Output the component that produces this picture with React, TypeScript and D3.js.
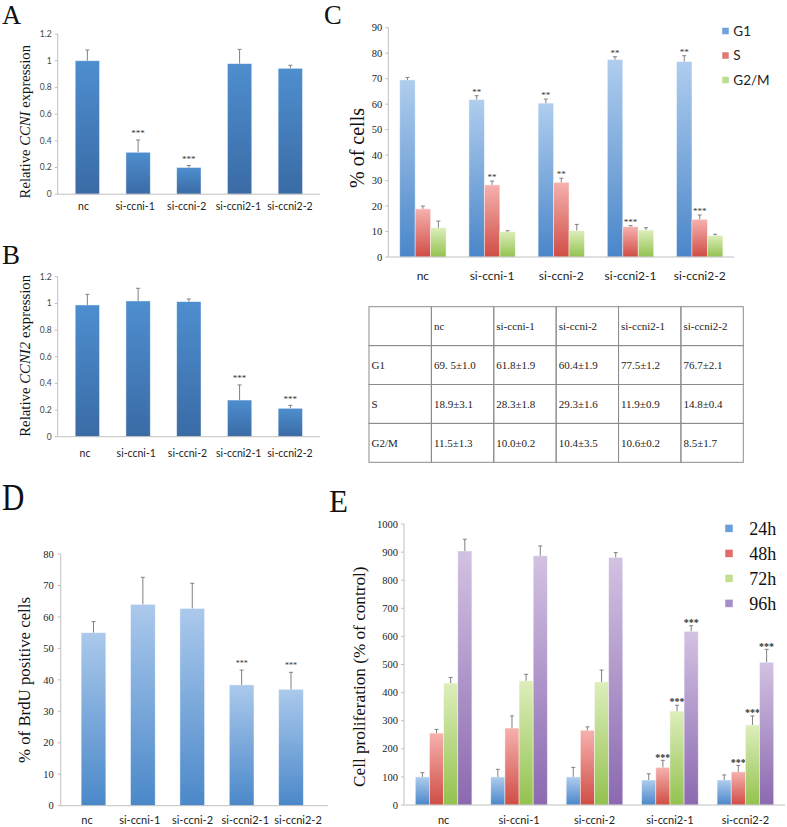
import React from "react";
import * as d3 from "d3";

// ---------- data ----------
const categories = ["nc", "si-ccni-1", "si-ccni-2", "si-ccni2-1", "si-ccni2-2"];

// Panel A: relative CCNI expression
const ccniExpr = [1.0, 0.314, 0.2, 0.978, 0.943];
const ccniErr = [0.08, 0.092, 0.015, 0.107, 0.023];
const ccniSig = ["", "***", "***", "", ""];
const abTicks = [0, 0.2, 0.4, 0.6, 0.8, 1, 1.2];

// Panel B: relative CCNI2 expression
const ccni2Expr = [0.988, 1.018, 1.013, 0.275, 0.213];
const ccni2Err = [0.08, 0.095, 0.02, 0.113, 0.022];
const ccni2Sig = ["", "", "", "***", "***"];

// Panel C: cell cycle phases
const phases = ["G1", "S", "G2/M"];
const g1Vals = [69.5, 61.8, 60.4, 77.5, 76.7];
const g1Err = [1.0, 1.5, 1.6, 1.1, 2.3];
const g1Sig = ["", "**", "**", "**", "**"];
const sVals = [18.9, 28.3, 29.3, 11.9, 14.8];
const sErr = [1.1, 1.5, 1.6, 0.4, 1.7];
const sSig = ["", "**", "**", "***", "***"];
const g2mVals = [11.5, 10.0, 10.4, 10.6, 8.5];
const g2mErr = [2.6, 0.3, 2.4, 0.9, 0.4];
const g2mSig = ["", "", "", "", ""];
const cTicks = [0, 10, 20, 30, 40, 50, 60, 70, 80, 90];

// Table
const tableHeader = ["", "nc", "si-ccni-1", "si-ccni-2", "si-ccni2-1", "si-ccni2-2"];
const tableG1 = ["G1", "69. 5±1.0", "61.8±1.9", "60.4±1.9", "77.5±1.2", "76.7±2.1"];
const tableS = ["S", "18.9±3.1", "28.3±1.8", "29.3±1.6", "11.9±0.9", "14.8±0.4"];
const tableG2M = ["G2/M", "11.5±1.3", "10.0±0.2", "10.4±3.5", "10.6±0.2", "8.5±1.7"];

// Panel D: BrdU
const brduVals = [55.0, 64.0, 62.7, 38.4, 37.0];
const brduErr = [3.5, 8.6, 8.0, 4.7, 5.4];
const brduSig = ["", "", "", "***", "***"];
const dTicks = [0, 10, 20, 30, 40, 50, 60, 70, 80];

// Panel E: proliferation
const times = ["24h", "48h", "72h", "96h"];
const h24 = [100, 100, 100, 89, 89];
const h24Err = [15, 27, 34, 22, 18];
const h24Sig = ["", "", "", "", ""];
const h48 = [256, 274, 266, 134, 118];
const h48Err = [13, 43, 12, 25, 23];
const h48Sig = ["", "", "", "***", "***"];
const h72 = [434, 442, 438, 334, 285];
const h72Err = [20, 23, 42, 21, 32];
const h72Sig = ["", "", "", "***", "***"];
const h96 = [904, 887, 881, 618, 508];
const h96Err = [42, 35, 17, 20, 46];
const h96Sig = ["", "", "", "***", "***"];
const eTicks = [0, 100, 200, 300, 400, 500, 600, 700, 800, 900, 1000];

// ---------- styles ----------
const SERIF = "'Liberation Serif', 'Times New Roman', serif";
const SANS = "Lato, 'Open Sans', sans-serif";
const AXIS = "#c0c0c0";
const ERR = "#808080";

const grads = [
  { id: "gAB", top: "#4e8ecf", bot: "#3a6ba5" },
  { id: "gBlue", top: "#afcdee", bot: "#4a86c9" },
  { id: "gRed", top: "#f6b1ae", bot: "#cf4d45" },
  { id: "gGreen", top: "#ddeebb", bot: "#93c24f" },
  { id: "gPurple", top: "#d2c2e2", bot: "#8b69b0" },
  { id: "gD", top: "#abc9ec", bot: "#4a88c9" },
];

function Bar({ x, w, y0, y1, yErr, fill, sig, sigGap, sigSize, sigBold }: any) {
  const cx = x + w / 2;
  return (
    <g>
      <rect x={x} y={y1} width={w} height={y0 - y1} fill={fill} stroke="#ffffff" strokeOpacity={0.55} strokeWidth={0.8} />
      <line x1={cx} x2={cx} y1={y1} y2={yErr} stroke={ERR} strokeWidth={1} />
      <line x1={cx - 2} x2={cx + 2} y1={yErr} y2={yErr} stroke={ERR} strokeWidth={1} />
      {sig ? (
        <text x={cx} y={yErr - sigGap} textAnchor="middle" fontFamily={SERIF} fontSize={sigSize} fontWeight={sigBold ? "bold" : "normal"} fill="#333">
          {sig}
        </text>
      ) : null}
    </g>
  );
}

function YAxis({ x, y, ticks, fmt, font, size, color, gap }: any) {
  const [r0, r1] = y.range();
  return (
    <g>
      <line x1={x} x2={x} y1={r0} y2={r1} stroke={AXIS} strokeWidth={1} />
      {ticks.map((t: number) => (
        <g key={t}>
          <line x1={x - 3} x2={x} y1={y(t)} y2={y(t)} stroke={AXIS} strokeWidth={1} />
          <text x={x - gap} y={y(t)} dy="0.35em" textAnchor="end" fontFamily={font} fontSize={size} fill={color}>
            {fmt(t)}
          </text>
        </g>
      ))}
    </g>
  );
}

function SimplePanel({ vals, errs, sigs, y, xRange, pi, po, axisX, axisEnd, ticks, fmt, tickFont, tickSize, tickColor, tickGap, fill, labelY, labelSize, labelRange, sigGap, sigSize }: any) {
  const x = d3.scaleBand<string>().domain(categories).range(xRange).paddingInner(pi).paddingOuter(po);
  const xl = d3.scalePoint<string>().domain(categories).range(labelRange);
  const y0 = y(0);
  return (
    <g>
      {categories.map((c, i) => (
        <Bar key={c} x={x(c)!} w={x.bandwidth()} y0={y0} y1={y(vals[i])} yErr={y(vals[i] + errs[i])} fill={fill} sig={sigs[i]} sigGap={sigGap} sigSize={sigSize} />
      ))}
      <YAxis x={axisX} y={y} ticks={ticks} fmt={fmt} font={tickFont} size={tickSize} color={tickColor} gap={tickGap} />
      <line x1={axisX} x2={axisEnd} y1={y0} y2={y0} stroke={AXIS} strokeWidth={1} />
      {categories.map((c) => (
        <text key={c} x={xl(c)!} y={labelY} dy="0.35em" textAnchor="middle" fontFamily={SANS} fontSize={labelSize} fill="#222">
          {c}
        </text>
      ))}
    </g>
  );
}

function GroupPanel({ series, y, xRange, pi, po, axisX, axisEnd, ticks, labelY, labelSize, sigGap, sigSize, sigBold }: any) {
  const x = d3.scaleBand<string>().domain(categories).range(xRange).paddingInner(pi).paddingOuter(po);
  const xi = d3.scaleBand<string>().domain(series.map((s: any) => s.name)).range([0, x.bandwidth()]).padding(0);
  const y0 = y(0);
  return (
    <g>
      {categories.map((c, i) => (
        <g key={c}>
          {series.map((s: any) => (
            <Bar key={s.name} x={x(c)! + xi(s.name)!} w={xi.bandwidth()} y0={y0} y1={y(s.vals[i])} yErr={y(s.vals[i] + s.errs[i])} fill={s.fill} sig={s.sigs[i]} sigGap={sigGap} sigSize={sigSize} sigBold={sigBold} />
          ))}
        </g>
      ))}
      <YAxis x={axisX} y={y} ticks={ticks} fmt={(t: number) => String(t)} font={SERIF} size={10.5} color="#222" gap={6} />
      <line x1={axisX} x2={axisEnd} y1={y0} y2={y0} stroke={AXIS} strokeWidth={1} />
      {categories.map((c) => (
        <text key={c} x={x(c)! + x.bandwidth() / 2} y={labelY} dy="0.35em" textAnchor="middle" fontFamily={SANS} fontSize={labelSize} fill="#222">
          {c}
        </text>
      ))}
    </g>
  );
}

export default function App() {
  const yA = d3.scaleLinear().domain([0, 1.2]).range([194.2, 34]);
  const yB = d3.scaleLinear().domain([0, 1.2]).range([436.7, 276.7]);
  const yC = d3.scaleLinear().domain([0, 90]).range([257, 27.7]);
  const yD = d3.scaleLinear().domain([0, 80]).range([805.7, 554]);
  const yE = d3.scaleLinear().domain([0, 1000]).range([805, 524]);
  const abFmt = (t: number) => String(+t.toFixed(1));

  const cSeries = [
    { name: phases[0], vals: g1Vals, errs: g1Err, sigs: g1Sig, fill: "url(#gBlue)", legend: "#6fa1da" },
    { name: phases[1], vals: sVals, errs: sErr, sigs: sSig, fill: "url(#gRed)", legend: "#e47a76" },
    { name: phases[2], vals: g2mVals, errs: g2mErr, sigs: g2mSig, fill: "url(#gGreen)", legend: "#bcdc8f" },
  ];
  const eSeries = [
    { name: times[0], vals: h24, errs: h24Err, sigs: h24Sig, fill: "url(#gBlue)", legend: "#6a9ed9" },
    { name: times[1], vals: h48, errs: h48Err, sigs: h48Sig, fill: "url(#gRed)", legend: "#e06b68" },
    { name: times[2], vals: h72, errs: h72Err, sigs: h72Sig, fill: "url(#gGreen)", legend: "#c0e090" },
    { name: times[3], vals: h96, errs: h96Err, sigs: h96Sig, fill: "url(#gPurple)", legend: "#a68ec8" },
  ];

  const cLegY = d3.scalePoint<string>().domain(phases).range([31, 80]);
  const eLegY = d3.scalePoint<string>().domain(times).range([528.3, 603.3]);

  const rows = [tableHeader, tableG1, tableS, tableG2M];
  const colX = d3.scaleBand<number>().domain(d3.range(6)).range([369, 743.3]);
  const rowY = d3.scaleBand<number>().domain(d3.range(4)).range([306.7, 462.3]);

  return (
    <div style={{ position: "absolute", left: 0, top: 0 }}>
      <svg width={787} height={827} viewBox="0 0 787 827" style={{ display: "block", background: "#fff" }}>
        <defs>
          {grads.map((g) => (
            <linearGradient key={g.id} id={g.id} x1="0" y1="0" x2="0" y2="1">
              <stop offset="0%" stopColor={g.top} />
              <stop offset="100%" stopColor={g.bot} />
            </linearGradient>
          ))}
        </defs>
        <rect width={787} height={827} fill="#fff" />

        {/* panel letters */}
        <text x={2} y={24} fontFamily={SERIF} fontSize={26.5} fill="#111">A</text>
        <text x={2} y={264} fontFamily={SERIF} fontSize={27} fill="#111">B</text>
        <text x={324} y={24} fontFamily={SERIF} fontSize={26.5} fill="#111">C</text>
        <text x={2} y={510} fontFamily={SERIF} fontSize={31} fill="#111" transform="translate(0,510) scale(1,1.2) translate(0,-510)">D</text>
        <text x={329} y={511.7} fontFamily={SERIF} fontSize={31} fill="#111">E</text>

        {/* Panel A */}
        <SimplePanel vals={ccniExpr} errs={ccniErr} sigs={ccniSig} y={yA} xRange={[62, 315.7]} pi={0.52} po={0.26}
          axisX={57.7} axisEnd={320} ticks={abTicks} fmt={abFmt} tickFont={SANS} tickSize={8.5} tickColor="#444" tickGap={6}
          fill="url(#gAB)" labelY={206.7} labelSize={10.5} labelRange={[83.5, 290]} sigGap={3.8} sigSize={9} />
        <text transform="translate(30,121.7) rotate(-90)" textAnchor="middle" fontFamily={SERIF} fontSize={14.7} fill="#111">
          Relative <tspan fontStyle="italic">CCNI</tspan> expression
        </text>

        {/* Panel B */}
        <SimplePanel vals={ccni2Expr} errs={ccni2Err} sigs={ccni2Sig} y={yB} xRange={[62, 315.7]} pi={0.52} po={0.26}
          axisX={57.7} axisEnd={320} ticks={abTicks} fmt={abFmt} tickFont={SANS} tickSize={8.5} tickColor="#444" tickGap={6}
          fill="url(#gAB)" labelY={453.3} labelSize={10.5} labelRange={[85, 290]} sigGap={3.8} sigSize={9} />
        <text transform="translate(30,355.8) rotate(-90)" textAnchor="middle" fontFamily={SERIF} fontSize={14.8} fill="#111">
          Relative <tspan fontStyle="italic">CCNI2</tspan> expression
        </text>

        {/* Panel C */}
        <GroupPanel series={cSeries} y={yC} xRange={[388.3, 734.3]} pi={0.33} po={0.165} axisX={388.3} axisEnd={734.3}
          ticks={cTicks} labelY={276} labelSize={12} sigGap={0.8} sigSize={9} />
        <text transform="translate(364.3,148) rotate(-90)" textAnchor="middle" fontFamily={SERIF} fontSize={20} fill="#111">% of cells</text>
        {cSeries.map((s) => (
          <g key={s.name}>
            <rect x={722} y={cLegY(s.name)! - 3.5} width={7} height={7} fill={s.legend} stroke="#fff" strokeWidth={0.5} />
            <text x={733.3} y={cLegY(s.name)!} dy="0.35em" fontFamily={SANS} fontSize={13.5} fill="#222">{s.name}</text>
          </g>
        ))}

        {/* Table */}
        {rows.map((r, ri) =>
          r.map((cell, ci) => (
            <g key={ri + "-" + ci}>
              <rect x={colX(ci)!} y={rowY(ri)!} width={colX.bandwidth()} height={rowY.bandwidth()} fill="none" stroke="#8c8c8c" strokeWidth={1} />
              <text x={colX(ci)! + 2.5} y={rowY(ri)! + rowY.bandwidth() / 2} dy="0.35em" fontFamily={SERIF} fontSize={11} fill="#222">{cell}</text>
            </g>
          ))
        )}

        {/* Panel D */}
        <SimplePanel vals={brduVals} errs={brduErr} sigs={brduSig} y={yD} xRange={[68.8, 315.7]} pi={0.5} po={0.25}
          axisX={60.7} axisEnd={328} ticks={dTicks} fmt={(t: number) => String(t)} tickFont={SERIF} tickSize={10.5} tickColor="#222" tickGap={7}
          fill="url(#gD)" labelY={820} labelSize={11} labelRange={[87, 298]} sigGap={4} sigSize={8} />
        <text transform="translate(30,680) rotate(-90)" textAnchor="middle" fontFamily={SERIF} fontSize={16.8} fill="#111">% of BrdU positive cells</text>

        {/* Panel E */}
        <GroupPanel series={eSeries} y={yE} xRange={[404, 785]} pi={0.25} po={0.15} axisX={404} axisEnd={785}
          ticks={eTicks} labelY={820} labelSize={11} sigGap={-0.2} sigSize={10} sigBold={true} />
        <text transform="translate(365.2,676.7) rotate(-90)" textAnchor="middle" fontFamily={SERIF} fontSize={17.2} fill="#111">Cell proliferation (% of control)</text>
        {eSeries.map((s) => (
          <g key={s.name}>
            <rect x={725} y={eLegY(s.name)! - 4} width={8} height={8} fill={s.legend} stroke="#fff" strokeWidth={0.5} />
            <text x={749.3} y={eLegY(s.name)!} dy="0.35em" fontFamily={SERIF} fontSize={18} fill="#111">{s.name}</text>
          </g>
        ))}
      </svg>
    </div>
  );
}
